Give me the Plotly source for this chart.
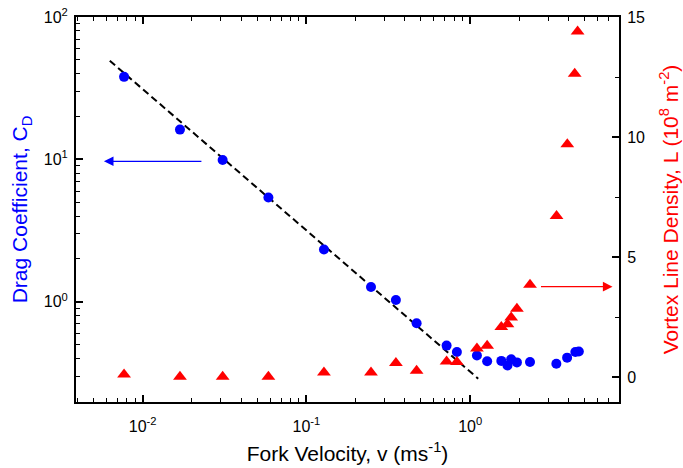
import numpy as np
import plotly.graph_objects as go

# Drag coefficient vs fork velocity (left, log axis)
v_cd = [0.0077, 0.0169, 0.0308, 0.0586, 0.128, 0.248, 0.352, 0.471, 0.718, 0.830,
        1.10, 1.27, 1.55, 1.69, 1.78, 1.93, 2.32, 3.36, 3.91, 4.39, 4.61]
cd = [38.0, 16.2, 9.9, 5.41, 2.33, 1.27, 1.03, 0.708, 0.493, 0.445,
      0.420, 0.383, 0.385, 0.358, 0.395, 0.376, 0.378, 0.368, 0.406, 0.445, 0.448]

# Vortex line density vs fork velocity (right, linear axis, 10^8 m^-2)
v_L = [0.0077, 0.0169, 0.0308, 0.0586, 0.128, 0.248, 0.352, 0.471, 0.718, 0.830,
       1.10, 1.27, 1.55, 1.69, 1.78, 1.93, 2.32, 3.37, 3.92, 4.35, 4.53]
L = [0.12, 0.03, 0.03, 0.03, 0.21, 0.21, 0.60, 0.28, 0.67, 0.64,
     1.21, 1.32, 2.10, 2.22, 2.50, 2.86, 3.86, 6.72, 9.71, 12.64, 14.40]

# C_D ~ 1/v guide line
v_fit = [0.0063, 1.12]
cd_fit = [49.3, 0.289]

x_ticks = [0.01, 0.1, 1]
x_ticktext = ["10<sup>-2</sup>", "10<sup>-1</sup>", "10<sup>0</sup>"]
y_ticks = [1, 10, 100]
y_ticktext = ["10<sup>0</sup>", "10<sup>1</sup>", "10<sup>2</sup>"]
y2_ticks = [0, 5, 10, 15]

x_minor = [k * 10.0 ** e for e in range(-3, 1) for k in range(2, 10)]
y_minor = [k * 10.0 ** e for e in range(-1, 2) for k in range(2, 10)]

FONT = "Liberation Sans, Arial, sans-serif"

fig = go.Figure()
fig.add_trace(go.Scatter(x=v_fit, y=cd_fit, mode="lines",
                         line=dict(color="black", width=2, dash="7px,4px"),
                         showlegend=False, hoverinfo="skip"))
fig.add_trace(go.Scatter(x=v_cd, y=cd, mode="markers",
                         marker=dict(symbol="circle", size=10, color="#0000FF"),
                         showlegend=False))
fig.add_trace(go.Scatter(x=v_L, y=L, mode="markers", yaxis="y2",
                         marker=dict(symbol="triangle-up", size=12, color="#FF0000"),
                         showlegend=False))

axis_common = dict(showline=True, linecolor="black", linewidth=2, ticks="inside",
                   tickcolor="black", tickwidth=1.5, ticklen=7, showgrid=False,
                   zeroline=False, automargin=False,
                   tickfont=dict(size=16, color="black", family=FONT))

fig.update_layout(
    width=683, height=468,
    margin=dict(l=76, r=64, t=17, b=66),
    paper_bgcolor="white", plot_bgcolor="white",
    font=dict(family=FONT, color="black"),
    xaxis=dict(type="log", range=[-2.407, 0.909], mirror="ticks",
               tickmode="array", tickvals=x_ticks, ticktext=x_ticktext,
               ticklabelstandoff=9,
               minor=dict(tickmode="array", tickvals=x_minor, ticks="inside",
                          ticklen=4, tickwidth=1.2, tickcolor="black", showgrid=False),
               title=dict(text="Fork Velocity, v (ms<sup>-1</sup>)",
                          font=dict(size=21, color="black", family=FONT), standoff=12),
               **axis_common),
    yaxis=dict(type="log", range=[-0.703, 2.0],
               tickmode="array", tickvals=y_ticks, ticktext=y_ticktext,
               ticklabelstandoff=3,
               minor=dict(tickmode="array", tickvals=y_minor, ticks="inside",
                          ticklen=4, tickwidth=1.2, tickcolor="black", showgrid=False),
               title=dict(text="Drag Coefficient, C<sub>D</sub>",
                          font=dict(size=21, color="#0000FF", family=FONT), standoff=10),
               **axis_common),
    yaxis2=dict(overlaying="y", side="right", range=[-1.02, 15],
                tickmode="array", tickvals=y2_ticks,
                ticklabelstandoff=3,
                minor=dict(dtick=2.5, tick0=0, ticks="inside", ticklen=4,
                           tickwidth=1.2, tickcolor="black", showgrid=False),
                title=dict(text="Vortex Line Density, L (10<sup>8</sup> m<sup>-2</sup>)",
                           font=dict(size=21, color="#FF0000", family=FONT), standoff=19),
                **axis_common),
)

# Arrows pointing each series to its axis
fig.add_annotation(x=np.log10(0.0058), y=np.log10(9.7), xref="x", yref="y",
                   ax=99, ay=0, text="", showarrow=True, arrowhead=2,
                   arrowsize=1.6, arrowwidth=1.2, arrowcolor="#0000FF")
fig.add_annotation(x=np.log10(7.4), y=3.78, xref="x", yref="y2",
                   ax=-73, ay=0, text="", showarrow=True, arrowhead=2,
                   arrowsize=1.6, arrowwidth=1.2, arrowcolor="#FF0000")

fig.write_html("out.html")
